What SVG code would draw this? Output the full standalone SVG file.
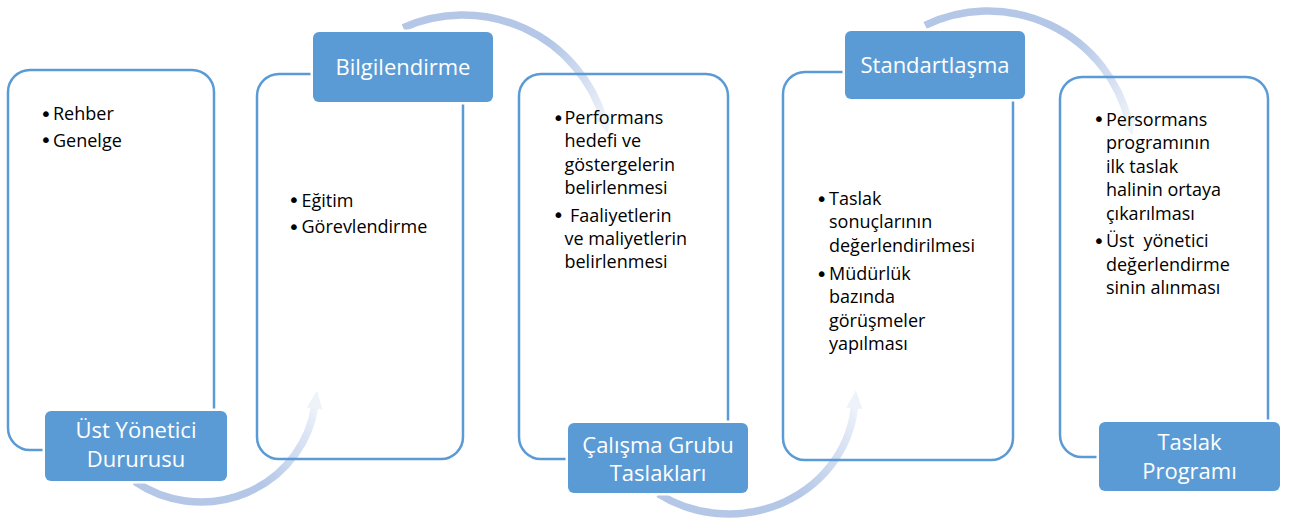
<svg xmlns="http://www.w3.org/2000/svg" width="1295" height="521" viewBox="0 0 1295 521">
<style>
.box{fill:none;stroke:#5b9bd5;stroke-width:2.5}
.lab{fill:#5b9bd5;stroke:#ffffff;stroke-width:5;paint-order:stroke}
.lt{font-family:"Open Sans","Liberation Sans",sans-serif;font-size:22px;fill:#ffffff;text-anchor:middle}
.bt{font-family:"Open Sans","Liberation Sans",sans-serif;font-size:18px;fill:#000000}
.bu{font-family:"DejaVu Sans",sans-serif;font-size:20px}
.arc{fill:none;stroke-width:7.5;stroke-linecap:butt;marker-end:url(#ah)}
</style>
<defs>
<marker id="ah" markerUnits="userSpaceOnUse" markerWidth="20" markerHeight="20" viewBox="0 0 20 20" refX="3" refY="10" orient="auto">
<path d="M0,2 L18,10 L0,18 z" fill="#eef3fa"/>
</marker>
<linearGradient id="g1" gradientUnits="userSpaceOnUse" x1="135" y1="482" x2="317" y2="391">
<stop offset="0" stop-color="#b4c7e7"/><stop offset="0.55" stop-color="#b4c7e7"/><stop offset="0.85" stop-color="#dbe4f4"/><stop offset="1" stop-color="#f4f7fc"/>
</linearGradient>
<linearGradient id="g2" gradientUnits="userSpaceOnUse" x1="403" y1="28" x2="608" y2="133">
<stop offset="0" stop-color="#b4c7e7"/><stop offset="0.6" stop-color="#b4c7e7"/><stop offset="0.85" stop-color="#dbe4f4"/><stop offset="1" stop-color="#f4f7fc"/>
</linearGradient>
<linearGradient id="g3" gradientUnits="userSpaceOnUse" x1="658" y1="494" x2="856" y2="390">
<stop offset="0" stop-color="#b4c7e7"/><stop offset="0.55" stop-color="#b4c7e7"/><stop offset="0.85" stop-color="#dbe4f4"/><stop offset="1" stop-color="#f4f7fc"/>
</linearGradient>
<linearGradient id="g4" gradientUnits="userSpaceOnUse" x1="925" y1="25" x2="1132" y2="135">
<stop offset="0" stop-color="#b4c7e7"/><stop offset="0.6" stop-color="#b4c7e7"/><stop offset="0.85" stop-color="#dbe4f4"/><stop offset="1" stop-color="#f4f7fc"/>
</linearGradient>
</defs>
<rect width="1295" height="521" fill="#ffffff"/>
<g id="connectors">
<path class="arc" stroke="url(#g1)" d="M135,481.7 A115,112 0 0 0 314.9,405.6"/>
<path class="arc" stroke="url(#g2)" d="M403.2,27.7 A147,147 0 0 1 603.6,119"/>
<path class="arc" stroke="url(#g3)" d="M658.5,493.8 A126,118 0 0 0 854.6,405.3"/>
<path class="arc" stroke="url(#g4)" d="M925.1,25.4 A145,145 0 0 1 1128.7,120.9"/>
</g>
<g id="node1">
<rect class="box" x="8" y="70" width="206" height="380" rx="22"/>
<text class="bt" x="40.1" y="120.5"><tspan class="bu">•</tspan><tspan x="53" y="120">Rehber</tspan><tspan class="bu" x="40.1" y="147.2">•</tspan><tspan x="53" y="146.7">Genelge</tspan></text>
<rect class="lab" x="45" y="411" width="182" height="70" rx="6"/>
<text class="lt" x="136" y="438.3">Üst Yönetici</text>
<text class="lt" x="136" y="467.3">Dururusu</text>
</g>
<g id="node2">
<rect class="box" x="257" y="74" width="206" height="385" rx="22"/>
<text class="bt" x="288.1" y="207.2"><tspan class="bu">•</tspan><tspan x="301.5" y="206.7">Eğitim</tspan><tspan class="bu" x="288.1" y="233.8">•</tspan><tspan x="301.5" y="233.3">Görevlendirme</tspan></text>
<rect class="lab" x="313" y="32" width="180" height="70" rx="6"/>
<text class="lt" x="403" y="75">Bilgilendirme</text>
</g>
<g id="node3">
<rect class="box" x="519" y="74" width="209" height="385" rx="22"/>
<text class="bt" x="552.4" y="124.5"><tspan class="bu">•</tspan><tspan x="564.5" y="124">Performans</tspan><tspan x="564.5" y="147.3">hedefi ve</tspan><tspan x="564.5" y="170.7">göstergelerin</tspan><tspan x="564.5" y="194">belirlenmesi</tspan><tspan class="bu" x="552.4" y="222.2">•</tspan><tspan x="570" y="221.7">Faaliyetlerin</tspan><tspan x="564.5" y="245">ve maliyetlerin</tspan><tspan x="564.5" y="268.3">belirlenmesi</tspan></text>
<rect class="lab" x="568" y="423" width="180" height="70" rx="6"/>
<text class="lt" x="658" y="453.3">Çalışma Grubu</text>
<text class="lt" x="658" y="480.7">Taslakları</text>
</g>
<g id="node4">
<rect class="box" x="783" y="72" width="230" height="388" rx="22"/>
<text class="bt" x="815.8" y="205.5"><tspan class="bu">•</tspan><tspan x="829" y="205">Taslak</tspan><tspan x="829" y="228.3">sonuçlarının</tspan><tspan x="829" y="251.7">değerlendirilmesi</tspan><tspan class="bu" x="815.8" y="280.5">•</tspan><tspan x="829" y="280">Müdürlük</tspan><tspan x="829" y="303.3">bazında</tspan><tspan x="829" y="326.7">görüşmeler</tspan><tspan x="829" y="350">yapılması</tspan></text>
<rect class="lab" x="845" y="31" width="180" height="68" rx="6"/>
<text class="lt" x="935" y="72.7">Standartlaşma</text>
</g>
<g id="node5">
<rect class="box" x="1060" y="77" width="208" height="380" rx="22"/>
<text class="bt" x="1093.1" y="126"><tspan class="bu">•</tspan><tspan x="1106" y="125.5">Persormans</tspan><tspan x="1106" y="149">programının</tspan><tspan x="1106" y="172.5">ilk taslak</tspan><tspan x="1106" y="196">halinin ortaya</tspan><tspan x="1106" y="219.5">çıkarılması</tspan><tspan class="bu" x="1093.1" y="247.5">•</tspan><tspan x="1106" y="247">Üst&#160; yönetici</tspan><tspan x="1106" y="270.5">değerlendirme</tspan><tspan x="1106" y="294">sinin alınması</tspan></text>
<rect class="lab" x="1099" y="422" width="181" height="69" rx="6"/>
<text class="lt" x="1189.5" y="450">Taslak</text>
<text class="lt" x="1189.5" y="479">Programı</text>
</g>
</svg>
